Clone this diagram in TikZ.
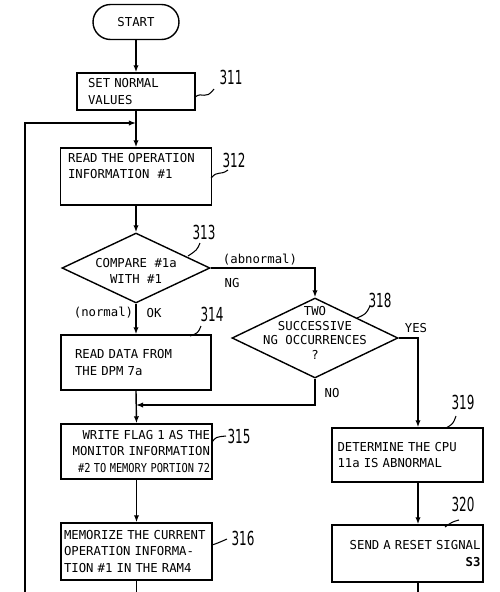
\documentclass[tikz,border=0pt]{standalone}
\usepackage{fontspec}
\usepackage{graphicx}
\setmonofont{DejaVu Sans Mono}
\newfontfamily\numfont[FakeStretch=0.62]{DejaVu Sans}
\usetikzlibrary{shapes.geometric,arrows.meta}
\begin{document}
\begin{tikzpicture}[x=0.02cm,y=-0.02cm,line width=0.8pt,
    txt/.style={font=\ttfamily\fontsize{7}{9.2}\selectfont},
    box/.style={txt,draw,inner sep=0pt,align=left,minimum width=3.02cm,minimum height=1.1cm},
    dia/.style={diamond,draw,inner sep=0pt},
    num/.style={font=\numfont\fontsize{11}{11}\selectfont,inner sep=0pt},
    arr/.style={-{Latex[length=4pt,width=3pt]}},
    lead/.style={line width=0.6pt}]
  \useasboundingbox (0,0) rectangle (500,592);

  % main column
  \node[txt,draw,rounded corners=0.35cm,minimum width=1.72cm,minimum height=0.7cm] (start) at (136,22) {START};
  \node[box,minimum width=2.36cm,minimum height=0.74cm,text width=1.92cm] (s311) at (136,91.5) {SET NORMAL\\VALUES};
  \node[box,minimum height=1.14cm,text width=2.72cm] (s312) at (136,176.5) {READ THE OPERATION\\INFORMATION\ \ \#1\\\strut};
  \node[dia,minimum width=2.96cm,minimum height=1.4cm,
    label={[txt,align=center,yshift=-0.06cm]center:COMPARE \#1a\\WITH \#1}] (d313) at (136,268) {};
  \node[box,minimum width=3.0cm,text width=2.44cm] (s314) at (136,362.5) {READ DATA FROM\\THE DPM 7a};
  \node[box,text width=2.94cm,align=right] (s315) at (136.5,451.5)
    {WRITE FLAG 1 AS THE\\MONITOR INFORMATION\\\scalebox{0.84}[1]{\#2 TO MEMORY PORTION 72}\hspace*{0.14cm}};
  \node[box,minimum height=1.14cm,text width=2.9cm] (s316) at (136.5,551.5)
    {MEMORIZE THE CURRENT\\OPERATION INFORMA-\\TION \#1 IN THE RAM4};

  % abnormal branch
  \node[dia,minimum width=3.32cm,minimum height=1.6cm,
    label={[txt,font=\ttfamily\fontsize{7}{8.3}\selectfont,align=center,yshift=0.1cm]center:TWO\\SUCCESSIVE\\NG OCCURRENCES\\?}] (d318) at (315,338) {};
  \node[box,minimum height=1.08cm,text width=2.8cm] (s319) at (407.5,455) {DETERMINE THE CPU\\11a IS ABNORMAL};
  \node[box,minimum height=1.14cm,text width=2.92cm,align=right] (s320) at (407.5,553.5)
    {SEND A RESET SIGNAL\\\textbf{S3}\hspace*{0.04cm}};

  \coordinate (m1) at (136,123);
  \coordinate (m2) at (136,405);
  \coordinate (bot) at (25,592);

  \draw[arr] (start) -- (s311);
  \draw[arr] (s311) -- (s312);
  \draw[arr] (bot) |- (m1);
  \draw[arr] (s312) -- (d313);
  \draw[arr] (d313.east) -| (d318.north);
  \draw[arr] (d313.south) -- (s314.north);
  \draw[arr] (s314.south) -- (s315.north);
  \draw[arr] (d318.south) |- (m2);
  \draw[arr] (d318.east) -| ([xshift=0.21cm]s319.north);
  \draw[arr] ([xshift=0.21cm]s319.south) -- ([xshift=0.21cm]s320.north);
  \draw[arr] (s315.south) -- (s316.north);
  \draw (s316.south) -- (s316.south |- bot);
  \draw ([xshift=0.21cm]s320.south) -- ++(0,10);

  \node[txt] at (260,260) {(abnormal)};
  \node[txt] at (232,283) {NG};
  \node[txt] at (103.5,313) {(normal)};
  \node[txt] at (154,313) {OK};
  \node[txt] at (416,328) {YES};
  \node[txt] at (332,393) {NO};

  % step numbers
  \node[num] (n311) at (231,77) {311};
  \draw[lead] (195,97) .. controls (203,91) and (205,101) .. (214,89);
  \node[num] (n312) at (234,160) {312};
  \draw[lead] (211,178) .. controls (218,170) and (220,176) .. (228,170);
  \node[num] (n313) at (204,232) {313};
  \draw[lead] (188,256) .. controls (197,250) .. (200,243);
  \node[num] (n314) at (212,314) {314};
  \draw[lead] (190,336) .. controls (198,333) .. (201,326);
  \node[num] (n318) at (380,300) {318};
  \draw[lead] (357,318) .. controls (366,314) .. (370,306);
  \node[num] (n315) at (239,436) {315};
  \draw[lead] (212,442) .. controls (216,437) .. (226,436);
  \node[num] (n316) at (243,538) {316};
  \draw[lead] (212,545) .. controls (218,543) .. (227,539);
  \node[num] (n319) at (463,402) {319};
  \draw[lead] (446,428) .. controls (453,424) .. (456,416);
  \node[num] (n320) at (463,504) {320};
  \draw[lead] (445,527) .. controls (452,522) .. (459,520);
\end{tikzpicture}
\end{document}
